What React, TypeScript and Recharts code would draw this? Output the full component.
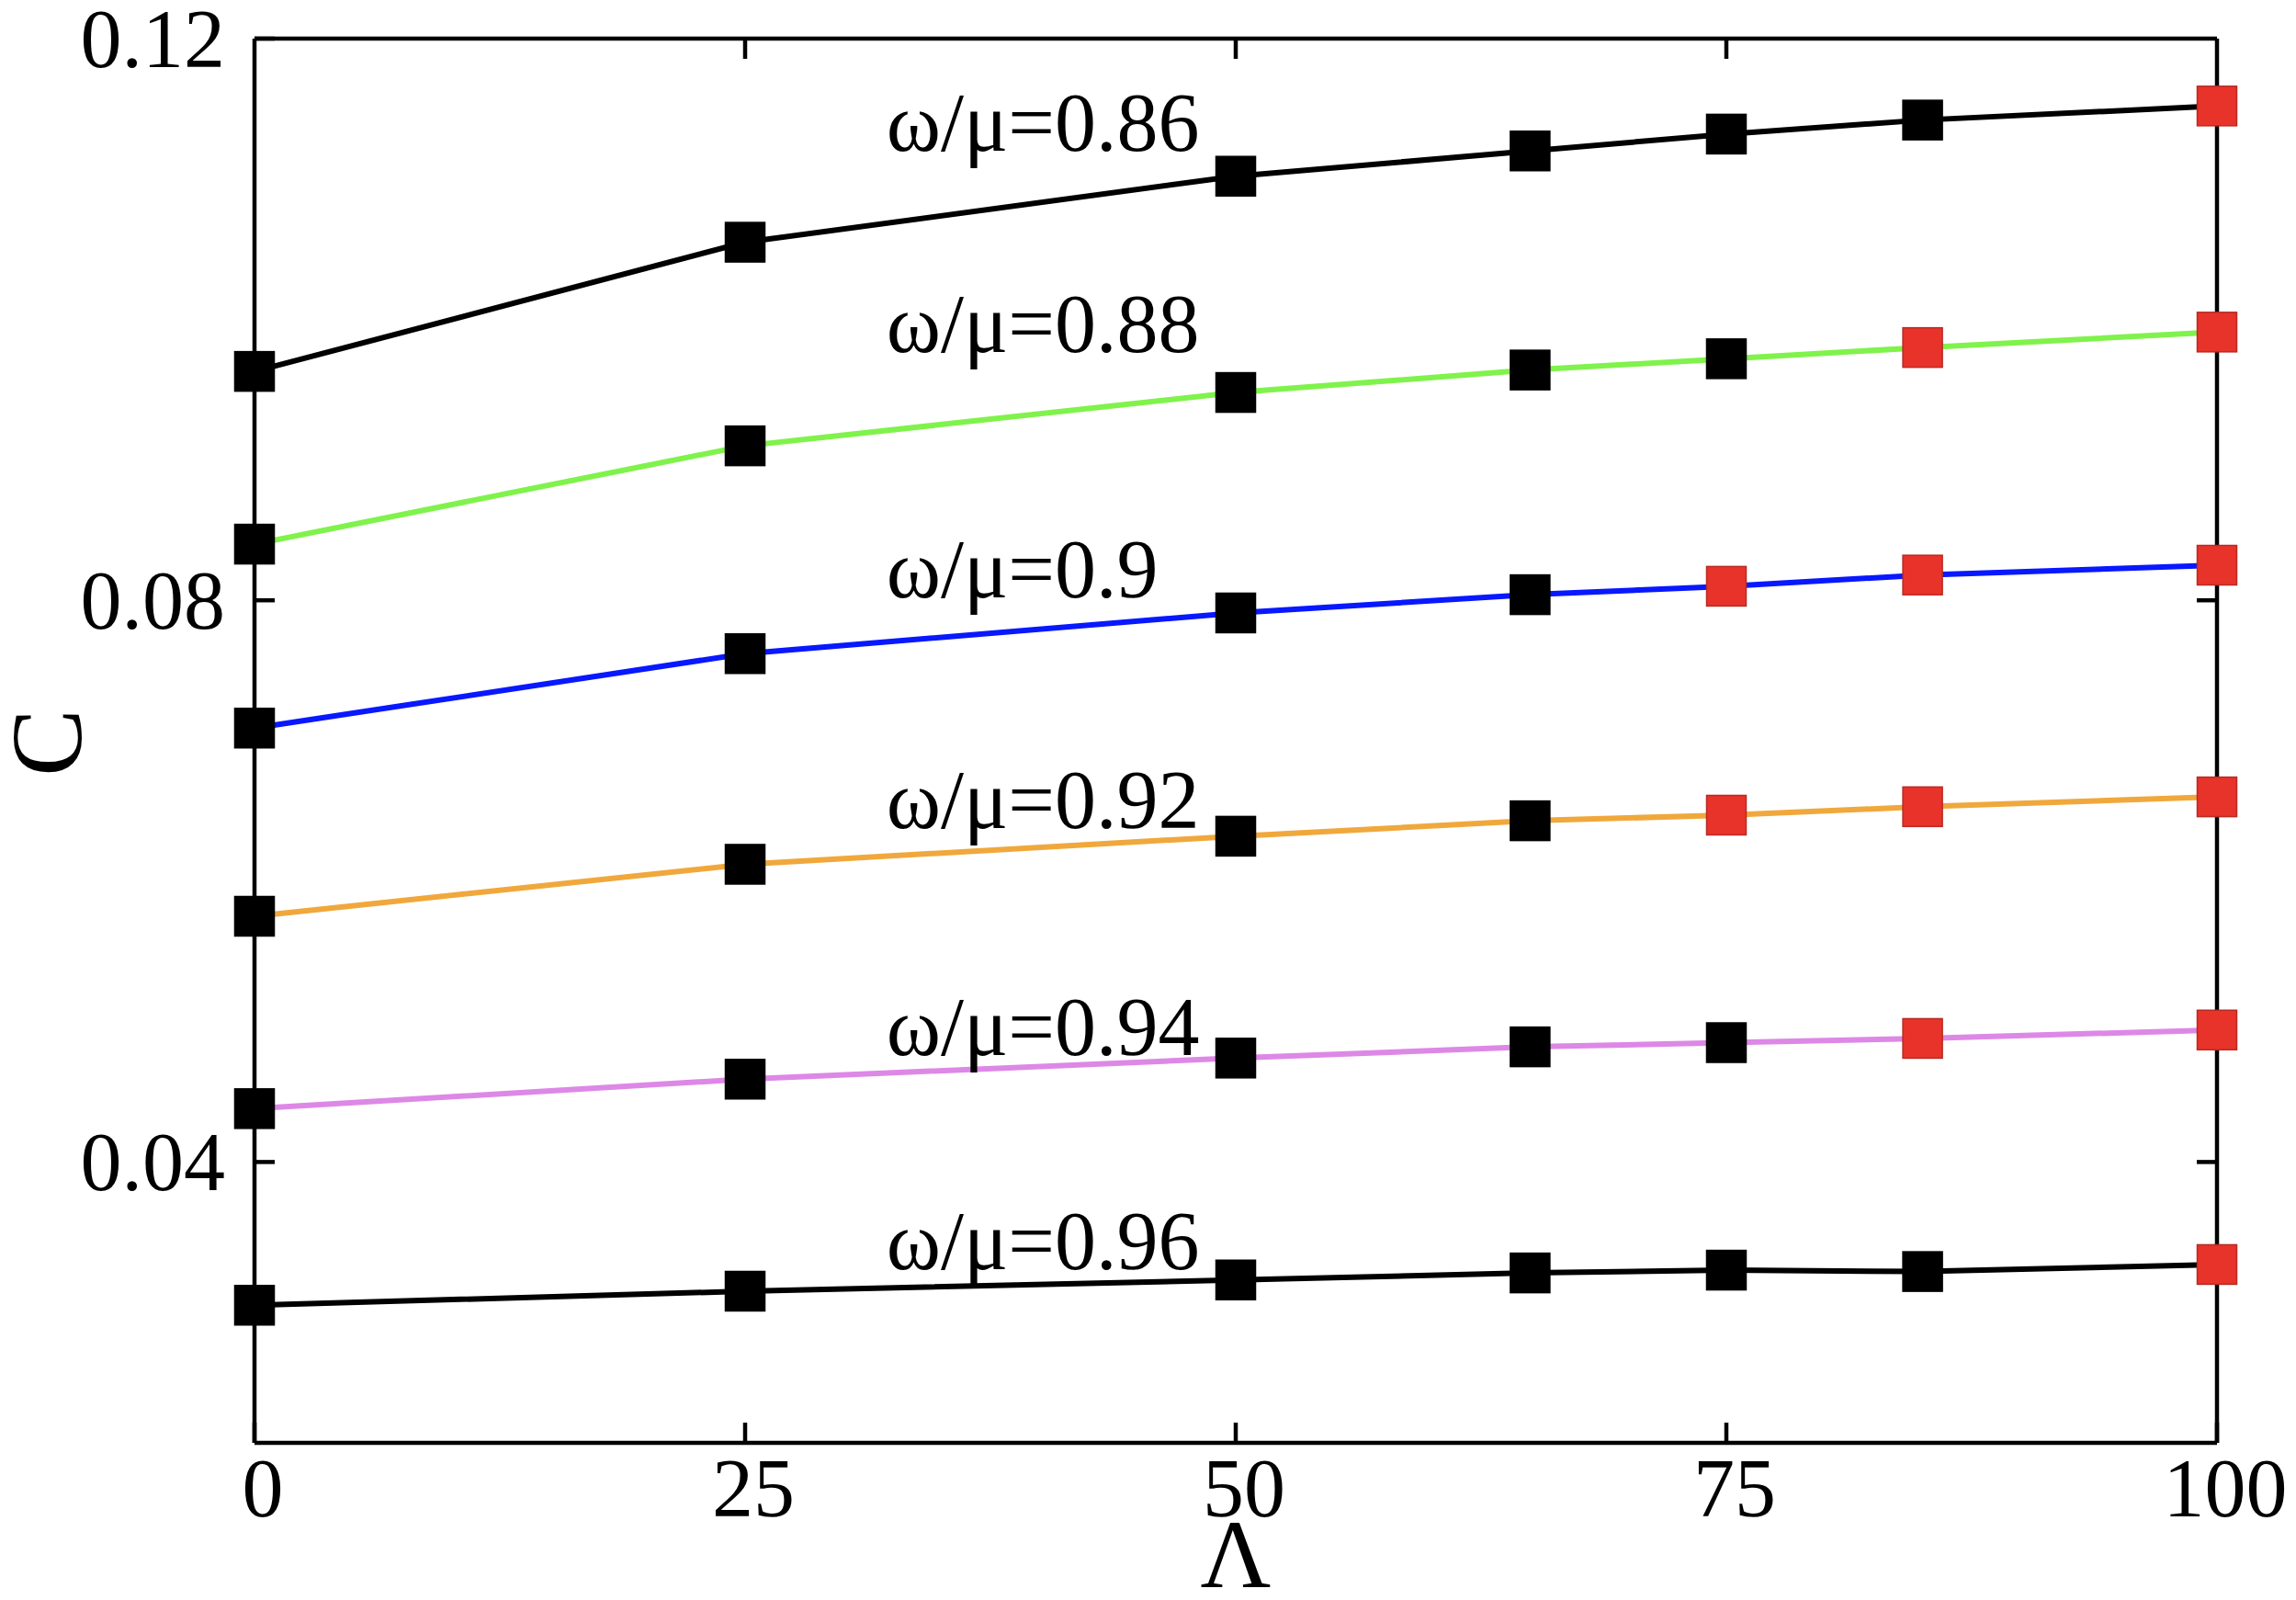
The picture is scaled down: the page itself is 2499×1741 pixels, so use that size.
import React from 'react';
import { LineChart, Line, XAxis, YAxis, ReferenceDot, Label } from 'recharts';

const lambdas = [0, 25, 50, 65, 75, 85, 100];
const c086 = [0.0963, 0.1055, 0.1102, 0.1120, 0.1132, 0.1142, 0.1152];
const c088 = [0.0840, 0.0910, 0.0948, 0.0964, 0.0972, 0.0980, 0.0991];
const c090 = [0.0709, 0.0762, 0.0791, 0.0804, 0.0810, 0.0818, 0.0825];
const c092 = [0.0575, 0.0612, 0.0632, 0.0643, 0.0647, 0.0653, 0.0660];
const c094 = [0.0438, 0.0459, 0.0474, 0.0482, 0.0485, 0.0488, 0.0494];
const c096 = [0.0298, 0.0308, 0.0316, 0.0321, 0.0323, 0.0322, 0.0327];

const red086 = [100];
const red088 = [85, 100];
const red090 = [75, 85, 100];
const red092 = [75, 85, 100];
const red094 = [85, 100];
const red096 = [100];

const xTicks = [0, 25, 50, 75, 100];
const yTicks = [0.04, 0.08, 0.12];
const labelTexts = ['ω/μ=0.86', 'ω/μ=0.88', 'ω/μ=0.9', 'ω/μ=0.92', 'ω/μ=0.94', 'ω/μ=0.96'];
const labelX = [32.2, 32.2, 32.2, 32.2, 32.2, 32.2];
const labelY = [0.1120, 0.0977, 0.0802, 0.0638, 0.0476, 0.0324];

const series = [
  { key: 's086', values: c086, red: red086, color: '#000000' },
  { key: 's088', values: c088, red: red088, color: '#80f24c' },
  { key: 's090', values: c090, red: red090, color: '#0818ff' },
  { key: 's092', values: c092, red: red092, color: '#f0a83c' },
  { key: 's094', values: c094, red: red094, color: '#dd88e6' },
  { key: 's096', values: c096, red: red096, color: '#000000' },
];

const data = lambdas.map((l, i) => {
  const row: any = { lambda: l };
  series.forEach((s) => (row[s.key] = s.values[i]));
  return row;
});

const FONT = '"Liberation Serif", "DejaVu Serif", serif';
const SQ = 43;
const AXW = 4.5;

const makeDot = (red: number[]) => (props: any) => {
  const { cx, cy, payload, index } = props;
  if (cx == null || cy == null) return <g key={index} />;
  const isRed = red.includes(payload.lambda);
  return (
    <rect
      key={index}
      x={cx - SQ / 2}
      y={cy - SQ / 2}
      width={SQ}
      height={SQ}
      fill={isRed ? '#e8332a' : '#000000'}
      stroke={isRed ? '#b82a22' : '#000000'}
      strokeWidth={1.5}
    />
  );
};

const BottomTick = (props: any) => {
  const { x, y, payload } = props;
  return (
    <g>
      <line x1={x} y1={y} x2={x} y2={y - 22} stroke="#000" strokeWidth={AXW} />
      <text x={x + 9} y={y + 80} textAnchor="middle" fontFamily={FONT} fontSize={90} fill="#000">
        {payload.value}
      </text>
    </g>
  );
};

const LeftTick = (props: any) => {
  const { x, y, payload } = props;
  return (
    <g>
      <line x1={x} y1={y} x2={x + 22} y2={y} stroke="#000" strokeWidth={AXW} />
      <text x={x - 32} y={y} dy="0.34em" textAnchor="end" fontFamily={FONT} fontSize={90} fill="#000">
        {payload.value}
      </text>
    </g>
  );
};

const TopTick = (props: any) => {
  const { x, y } = props;
  return <line x1={x} y1={y} x2={x} y2={y + 22} stroke="#000" strokeWidth={AXW} />;
};

const RightTick = (props: any) => {
  const { x, y } = props;
  return <line x1={x} y1={y} x2={x - 22} y2={y} stroke="#000" strokeWidth={AXW} />;
};

export default function App() {
  return (
    <div style={{ position: 'absolute', left: 0, top: 0, background: '#fff' }}>
      <LineChart
        width={2499}
        height={1741}
        data={data}
        margin={{ top: 41, right: 85, bottom: 1, left: 27 }}
      >
        <XAxis
          dataKey="lambda"
          type="number"
          domain={[0, 100]}
          ticks={xTicks}
          height={170}
          tickSize={0}
          tickMargin={0}
          tickLine={false}
          axisLine={{ stroke: '#000', strokeWidth: AXW }}
          tick={<BottomTick />}
          interval={0}
        >
          <Label
            content={(p: any) => {
              const vb = p.viewBox;
              return (
                <text
                  x={vb.x + vb.width / 2}
                  y={vb.y + 157}
                  textAnchor="middle"
                  fontFamily={FONT}
                  fontSize={106}
                  fill="#000"
                >
                  Λ
                </text>
              );
            }}
          />
        </XAxis>
        <XAxis
          xAxisId="top"
          orientation="top"
          dataKey="lambda"
          type="number"
          domain={[0, 100]}
          ticks={[25, 50, 75]}
          height={1}
          tickSize={0}
          tickMargin={0}
          tickLine={false}
          axisLine={{ stroke: '#000', strokeWidth: AXW }}
          tick={<TopTick />}
          interval={0}
        />
        <YAxis
          type="number"
          domain={[0.02, 0.12]}
          ticks={yTicks}
          width={250}
          tickSize={0}
          tickMargin={0}
          tickLine={false}
          axisLine={{ stroke: '#000', strokeWidth: AXW }}
          tick={<LeftTick />}
          interval={0}
          allowDataOverflow
        >
          <Label
            content={(p: any) => {
              const vb = p.viewBox;
              const cx = vb.x + 22;
              const cy = vb.y + vb.height / 2 + 2;
              return (
                <text
                  x={cx}
                  y={cy}
                  dy="0.35em"
                  textAnchor="middle"
                  fontFamily={FONT}
                  fontSize={110}
                  fill="#000"
                  transform={`rotate(-90, ${cx}, ${cy})`}
                >
                  C
                </text>
              );
            }}
          />
        </YAxis>
        <YAxis
          yAxisId="right"
          orientation="right"
          type="number"
          domain={[0.02, 0.12]}
          ticks={[0.04, 0.08]}
          width={1}
          tickSize={0}
          tickMargin={0}
          tickLine={false}
          axisLine={{ stroke: '#000', strokeWidth: AXW }}
          tick={<RightTick />}
          interval={0}
          allowDataOverflow
        />
        {series.map((s) => (
          <Line
            key={s.key}
            type="linear"
            dataKey={s.key}
            stroke={s.color}
            strokeWidth={6}
            dot={makeDot(s.red)}
            activeDot={false}
            isAnimationActive={false}
          />
        ))}
        <Line
          xAxisId="top"
          yAxisId="right"
          dataKey="s086"
          stroke="none"
          dot={false}
          activeDot={false}
          legendType="none"
          isAnimationActive={false}
        />
        {labelTexts.map((t, i) => (
          <ReferenceDot
            key={t}
            x={labelX[i]}
            y={labelY[i]}
            r={1}
            fill="none"
            stroke="none"
            label={{
              content: (p: any) => {
                const vb = p.viewBox;
                return (
                  <text x={vb.x + 1} y={vb.y + 1} fontFamily={FONT} fontSize={90} fill="#000">
                    {t}
                  </text>
                );
              },
            }}
          />
        ))}
      </LineChart>
    </div>
  );
}
